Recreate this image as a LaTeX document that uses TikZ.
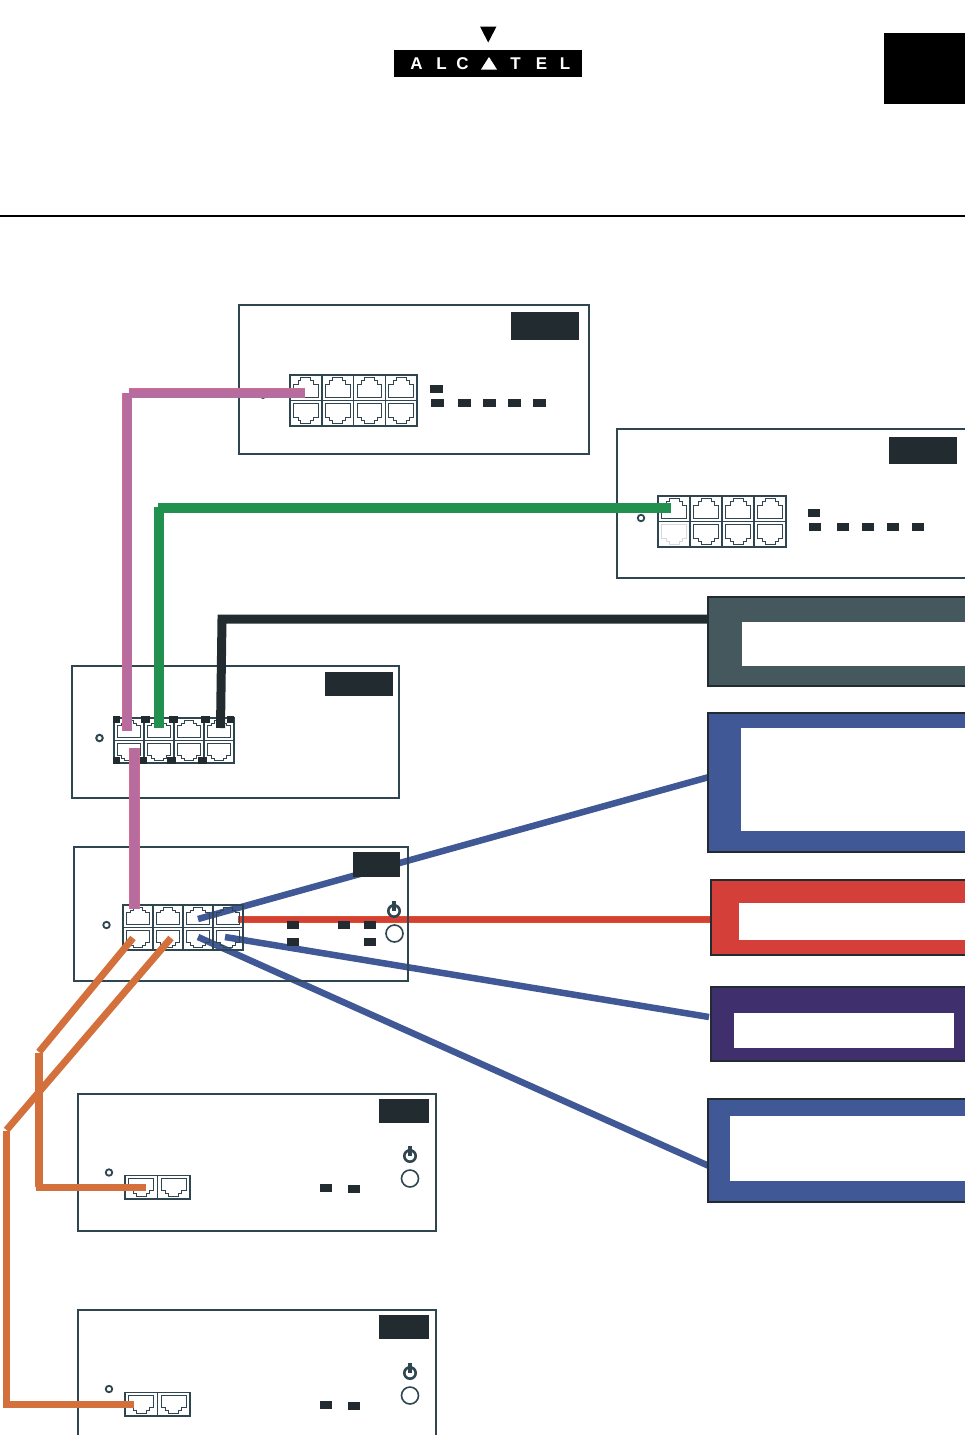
\documentclass[tikz,border=0pt]{standalone}
\usepackage{fontspec}
\setmainfont{Liberation Sans}
\usepackage{tikz}
\usetikzlibrary{positioning}

\definecolor{panelcol}{HTML}{2F4650}
\definecolor{inkcol}{HTML}{222B30}
\definecolor{pinkcol}{HTML}{B66C9F}
\definecolor{pinkedge}{HTML}{D96A8A}
\definecolor{greencol}{HTML}{22904F}
\definecolor{orangecol}{HTML}{D4703C}
\definecolor{bluecol}{HTML}{415896}
\definecolor{redcol}{HTML}{D53F3A}
\definecolor{rededge}{HTML}{E0501A}
\definecolor{slatecol}{HTML}{44585E}
\definecolor{purplecol}{HTML}{3F2F6D}

\tikzset{
  jackline/.style={draw=panelcol, line width=0.9pt},
  pics/jack/.style={code={
    \draw[jackline] (-12.5,10) -- (12.5,10) -- (12.5,-4) -- (8,-4) -- (8,-7.5) -- (5,-7.5) -- (5,-10.5)
      -- (-5,-10.5) -- (-5,-7.5) -- (-8,-7.5) -- (-8,-4) -- (-12.5,-4) -- cycle;
  }},
  pics/power/.style={code={
    \draw[draw=panelcol, line width=2.6pt] (0,0) circle (5.7);
    \draw[draw=panelcol, line width=4pt] (0,-10) -- (0,0);
  }}
}

% one row of jacks, name x y cols w h flip
\newcommand{\jackrow}[7]{%
  \foreach \i in {1,...,#4}{
    \pic[xscale={#5/32}, yscale={#7*#6/27}] at ({#2+(\i-.5)*#5},{#3+.5*#6}) {jack};
    \node[jackcell, minimum width=#5pt, minimum height=#6pt] (#1\i) at ({#2+(\i-.5)*#5},{#3+.5*#6}) {};
  }%
}

\begin{document}
\begin{tikzpicture}[
  x=1pt, y=-1pt,
  node distance=12pt,
  every node/.append style={outer sep=0pt},
  unit/.style={draw=panelcol, line width=1.8pt, anchor=north west, inner sep=0pt},
  tag/.style={fill=inkcol, anchor=north west, inner sep=0pt},
  led/.style={fill=inkcol, inner sep=0pt, minimum width=13pt, minimum height=8pt},
  tab/.style={fill=inkcol, inner sep=0pt, minimum width=9pt, minimum height=7pt},
  lamp/.style={draw=panelcol, circle, line width=1.8pt, inner sep=0pt, minimum size=6.5pt},
  ring/.style={draw=panelcol, circle, line width=1.6pt, inner sep=0pt, minimum size=17pt},
  jackcell/.style={draw=panelcol, line width=1.7pt, inner sep=0pt},
  frame/.style={draw=inkcol, line width=2pt, anchor=north west, inner sep=0pt},
  hole/.style={fill=white, anchor=north west, inner sep=0pt},
  letter/.style={text=white, font=\fontsize{17}{18}\selectfont\bfseries, inner sep=0pt},
  bluewire/.style={draw=bluecol, line width=6.5pt},
  pinkwire/.style={draw=pinkedge, line width=0.7pt, double=pinkcol, double distance=9pt},
  orangewire/.style={draw=orangecol, line width=7pt},
  redwire/.style={draw=rededge, line width=0.9pt, double=redcol, double distance=5.5pt}
]
\useasboundingbox (0,0) rectangle (965,1435);

% header
\node[fill=black, anchor=north west, inner sep=0pt, minimum width=188pt, minimum height=27pt] (logo) at (394,49.5) {};
\node[letter] (la) at (416.5,63.5) {A};
\node[letter] (ll) at (441.5,63.5) {L};
\node[letter] (lc) at (462.5,63.5) {C};
\node[letter] (lt) at (515.5,63.5) {T};
\node[letter] (le) at (541.5,63.5) {E};
\node[letter] (lm) at (565,63.5) {L};
\fill[white] (481,69.5) -- (489,57) -- (497,69.5) -- cycle;
\fill[black] (480,26.5) -- (496.5,26.5) -- (488.2,42.5) -- cycle;
\node[fill=black, anchor=north west, inner sep=0pt, minimum width=81pt, minimum height=71pt] (corner) at (884,33) {};
\coordinate (rulea) at (0,215.5);
\coordinate (ruleb) at (965,215.5);
\draw[black, line width=2pt] (rulea) -- (ruleb);

% wire ends
\coordinate (topjack) at (305,393);
\coordinate (pinkh) at (129,393);
\coordinate (pinkv) at (127,393);
\coordinate (midjack) at (671,508);
\coordinate (greenh) at (158,508);
\coordinate (greenv) at (159,507);
\coordinate (hubpink) at (127,731);
\coordinate (hubgreen) at (159,728);
\coordinate (hubblack) at (220.5,728);
\coordinate (hubdown) at (134.5,748);
\coordinate (swup) at (134.5,909);
\coordinate (swblue) at (198,919);
\coordinate (swred) at (238,919.5);
\coordinate (swbluetwo) at (225,937);
\coordinate (swbluethree) at (198,937);
\coordinate (swora) at (133,938);
\coordinate (sworb) at (171,938);
\coordinate (bendblack) at (222,619);
\coordinate (endblack) at (708,619);
\coordinate (endblue) at (709,777);
\coordinate (endred) at (711,919.5);
\coordinate (endpurple) at (709,1017);
\coordinate (endlow) at (709,1166);
\coordinate (orabend) at (39,1052);
\coordinate (oratop) at (39,1053);
\coordinate (orabot) at (39,1187);
\coordinate (oraleft) at (35.5,1187);
\coordinate (oraend) at (146,1187);
\coordinate (orbbend) at (6.5,1130);
\coordinate (orbtop) at (6.5,1131);
\coordinate (orbbot) at (6.5,1404);
\coordinate (orbleft) at (3,1404);
\coordinate (orbend) at (134,1404);

% top unit
\node[unit, minimum width=350pt, minimum height=149pt] (unita) at (239,305) {};
\node[tag, minimum width=68pt, minimum height=28pt] (taga) at (511,312) {};
\node[lamp, minimum size=4pt] (lampa) at (263,396) {};
\jackrow{pa-u}{290}{375}{4}{31.8}{25.5}{1}
\jackrow{pa-d}{290}{400.5}{4}{31.8}{25.5}{-1}
\node[led] (lea) at (436.5,389) {};
\node[led] (leb) at (437.5,403) {};
\node[led, right=of leb, xshift=2pt] (lec) {};
\node[led, right=of lec] (led) {};
\node[led, right=of led] (lee) {};
\node[led, right=of lee] (lef) {};

% second unit
\node[unit, minimum width=360pt, minimum height=149pt] (unitb) at (617,429) {};
\node[tag, minimum width=68pt, minimum height=27pt] (tagb) at (889,437) {};
\node[lamp] (lampb) at (641,518) {};
\jackrow{pb-u}{658}{496}{4}{32}{25.5}{1}
\jackrow{pb-d}{658}{521.5}{1}{32}{25.5}{-1}
\jackrow{pc-d}{690}{521.5}{3}{32}{25.5}{-1}
\pic[yscale=-.944, jackline/.style={draw=white, line width=2pt}] at (674,534.25) {jack};
\pic[yscale=-.944, jackline/.style={draw=black!15, line width=0.9pt}] at (674,534.25) {jack};
\node[led, minimum width=12pt] (lba) at (814,513) {};
\node[led, minimum width=12pt] (lbb) at (815,527) {};
\node[led, minimum width=12pt, right=of lbb, xshift=4pt] (lbc) {};
\node[led, minimum width=12pt, right=13pt of lbc] (lbd) {};
\node[led, minimum width=12pt, right=13pt of lbd] (lbe) {};
\node[led, minimum width=12pt, right=13pt of lbe] (lbf) {};

% hub unit
\node[unit, minimum width=327pt, minimum height=132pt] (unitc) at (72,666) {};
\node[tag, minimum width=68pt, minimum height=24pt] (tagc) at (325,672) {};
\node[lamp, line width=2pt] (lampc) at (99.5,738) {};
\jackrow{pd-u}{114}{718}{4}{30}{22.5}{1}
\jackrow{pd-d}{114}{740.5}{4}{30}{22.5}{-1}
\node[tab, minimum width=7pt] (tua) at (116.5,719) {};
\node[tab] (tub) at (145,719) {};
\node[tab] (tuc) at (173.5,719) {};
\node[tab] (tud) at (205,719) {};
\node[tab, minimum width=7pt] (tue) at (230.5,719) {};
\node[tab, minimum width=7pt] (tda) at (116,760.5) {};
\node[tab, minimum width=8pt] (tdb) at (143,760.5) {};
\node[tab] (tdc) at (171.5,760.5) {};
\node[tab] (tdd) at (202.5,760.5) {};

% wires to the hub
\draw[pinkwire] (topjack) -- (pinkh);
\draw[pinkwire] (pinkv) -- (hubpink);
\draw[greencol, line width=10pt] (midjack) -- (greenh);
\draw[greencol, line width=10pt] (greenv) -- (hubgreen);
\draw[inkcol, line width=9pt, line join=miter] (endblack) -- (bendblack) -- (hubblack);

% switch unit, wires first
\draw[bluewire] (swblue) -- (endblue);
\draw[bluewire] (swbluetwo) -- (endpurple);
\draw[bluewire] (swbluethree) -- (endlow);
\draw[redwire] (swred) -- (endred);
\node[unit, minimum width=334pt, minimum height=134pt] (unitd) at (74,847) {};
\node[tag, minimum width=47pt, minimum height=25pt] (tagd) at (353,852) {};
\node[lamp] (lampd) at (106.5,925) {};
\jackrow{pe-u}{123}{905}{4}{30}{22.5}{1}
\jackrow{pe-d}{123}{927.5}{4}{30}{22.5}{-1}
\node[led, minimum width=12pt] (lda) at (293,924.5) {};
\node[led, minimum width=12pt] (ldb) at (344,924.5) {};
\node[led, minimum width=12pt] (ldc) at (370,924.5) {};
\node[led, minimum width=12pt] (ldd) at (293,941.5) {};
\node[led, minimum width=12pt] (lde) at (370,941.5) {};
\pic at (394,911) {power};
\node[ring] (ringd) at (394.5,933.5) {};
\draw[pinkwire] (hubdown) -- (swup);

% lower units
\node[unit, minimum width=358pt, minimum height=137pt] (unite) at (78,1094) {};
\node[tag, minimum width=50pt, minimum height=24pt] (tage) at (379,1099) {};
\node[lamp] (lampe) at (109,1172.5) {};
\jackrow{pf-d}{125}{1175.5}{2}{32.5}{23.5}{-1}
\node[led, minimum width=12.5pt] (lfa) at (326,1188) {};
\node[led, minimum width=12.5pt] (lfb) at (354,1189) {};
\pic at (410,1156) {power};
\node[ring] (ringe) at (410,1178.5) {};

\node[unit, minimum width=358pt, minimum height=140pt] (unitf) at (78,1310) {};
\node[tag, minimum width=50pt, minimum height=24pt] (tagf) at (379,1315) {};
\node[lamp] (lampf) at (109,1389) {};
\jackrow{pg-d}{125}{1392.5}{2}{32.5}{23.5}{-1}
\node[led, minimum width=12.5pt] (lga) at (326,1404.5) {};
\node[led, minimum width=12.5pt] (lgb) at (354,1405.5) {};
\pic at (410,1373) {power};
\node[ring] (ringf) at (410,1395.5) {};

% orange wires
\draw[orangewire] (swora) -- (orabend);
\draw[orangewire, line width=7.5pt] (oratop) -- (orabot);
\draw[orangewire] (oraleft) -- (oraend);
\draw[orangewire] (sworb) -- (orbbend);
\draw[orangewire, line width=7.5pt] (orbtop) -- (orbbot);
\draw[orangewire] (orbleft) -- (orbend);

% right hand blocks
\node[frame, fill=slatecol, minimum width=270pt, minimum height=89pt] (blockslate) at (707.5,597) {};
\node[hole, minimum width=240pt, minimum height=44pt] (holeslate) at (742,622) {};
\node[frame, fill=bluecol, minimum width=270pt, minimum height=139pt] (blockblue) at (707.5,712.5) {};
\node[hole, minimum width=240pt, minimum height=103pt] (holeblue) at (741,728) {};
\node[frame, fill=redcol, minimum width=270pt, minimum height=75pt] (blockred) at (710.5,880) {};
\node[hole, minimum width=240pt, minimum height=37pt] (holered) at (739,903) {};
\node[frame, fill=purplecol, minimum width=270pt, minimum height=74pt] (blockpurple) at (710.5,987) {};
\node[hole, minimum width=220pt, minimum height=35pt] (holepurple) at (734,1013) {};
\node[frame, fill=bluecol, minimum width=270pt, minimum height=103pt] (blocklow) at (707.5,1099) {};
\node[hole, minimum width=240pt, minimum height=65pt] (holelow) at (730,1116) {};
\end{tikzpicture}
\end{document}
